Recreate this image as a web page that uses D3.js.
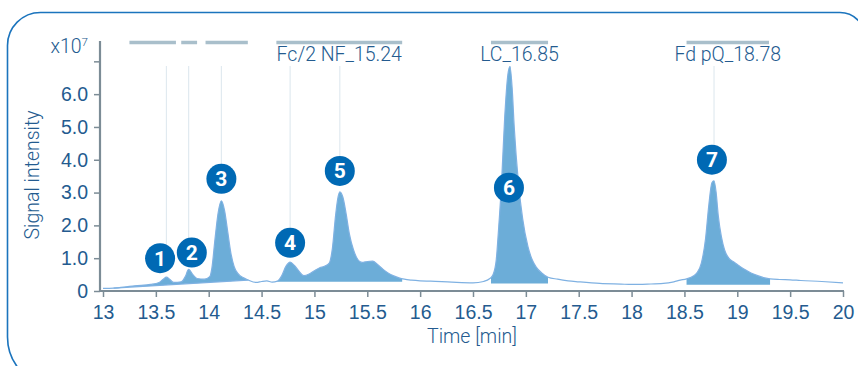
<!DOCTYPE html>
<html>
<head>
<meta charset="utf-8">
<script src="https://cdn.jsdelivr.net/npm/d3@7"></script>
<style>
  html, body { margin: 0; padding: 0; background: #ffffff; }
  svg { display: block; font-family: Roboto, "Liberation Sans", Arial, sans-serif; font-weight: 300; }
</style>
</head>
<body>
<svg id="chart" width="858" height="366"></svg>
<script>
// Chromatogram trace: retention time (min) and signal (x10^7)
const times = [
  13.00, 13.10, 13.20, 13.30, 13.45, 13.53, 13.57, 13.60, 13.63, 13.67, 13.74, 13.78, 13.81, 13.85, 13.89,
  13.96, 14.01, 14.03, 14.06, 14.09, 14.12, 14.15, 14.18, 14.21, 14.24, 14.28, 14.33, 14.37,
  14.45, 14.50, 14.55, 14.60, 14.65, 14.69, 14.73, 14.77, 14.81, 14.85, 14.90, 14.95,
  15.00, 15.05, 15.10, 15.14, 15.17, 15.20, 15.22, 15.24, 15.27, 15.30, 15.33, 15.37, 15.41, 15.45,
  15.50, 15.55, 15.60, 15.65, 15.70, 15.75, 15.80, 15.85, 15.92, 16.00, 16.10, 16.30, 16.50,
  16.60, 16.66, 16.69, 16.72, 16.74, 16.77, 16.80, 16.83, 16.85, 16.87, 16.89, 16.93, 16.97,
  17.02, 17.06, 17.10, 17.15, 17.21, 17.30, 17.40, 17.50, 17.70, 17.90, 18.00, 18.15, 18.30,
  18.40, 18.46, 18.52, 18.58, 18.62, 18.66, 18.70, 18.73, 18.76, 18.78, 18.80, 18.82, 18.85,
  18.88, 18.92, 18.96, 19.00, 19.04, 19.08, 19.13, 19.20, 19.26, 19.31, 19.40, 19.50, 19.60,
  19.80, 20.00
];
const signal = [
  0.08, 0.09, 0.12, 0.16, 0.20, 0.26, 0.36, 0.42, 0.36, 0.26, 0.28, 0.45, 0.66, 0.50, 0.38,
  0.36, 0.44, 0.70, 1.60, 2.40, 2.75, 2.45, 1.80, 1.15, 0.75, 0.52, 0.40, 0.34,
  0.26, 0.29, 0.31, 0.27, 0.30, 0.46, 0.75, 0.88, 0.78, 0.62, 0.47, 0.52,
  0.62, 0.71, 0.76, 0.85, 1.30, 2.30, 2.80, 3.02, 2.85, 2.35, 1.75, 1.25, 0.96, 0.87,
  0.90, 0.91, 0.80, 0.66, 0.54, 0.46, 0.40, 0.36, 0.33, 0.31, 0.30, 0.27, 0.25,
  0.29, 0.38, 0.50, 0.95, 1.80, 3.30, 5.30, 6.60, 6.84, 6.20, 5.00, 3.30, 2.20,
  1.35, 0.95, 0.72, 0.55, 0.42, 0.36, 0.31, 0.28, 0.23, 0.21, 0.20, 0.21, 0.23,
  0.28, 0.33, 0.37, 0.45, 0.56, 0.85, 1.60, 2.60, 3.30, 3.36, 3.00, 2.30, 1.65,
  1.25, 1.00, 0.90, 0.81, 0.72, 0.64, 0.55, 0.46, 0.40, 0.37, 0.35, 0.34, 0.32,
  0.29, 0.25
];

// Integrated regions: start/end time and baseline level at each end
const winStart = [13.10, 14.64, 16.67, 18.52];
const winEnd   = [14.37, 15.83, 17.21, 19.31];
const winBase0 = [0.09, 0.28, 0.23, 0.19];
const winBase1 = [0.33, 0.28, 0.23, 0.19];

// Identification bars above the plot and their names
const barStart = [13.25, 13.74, 13.97, 14.64, 16.67, 18.52];
const barEnd   = [13.69, 13.89, 14.37, 15.83, 17.21, 19.30];
const barLabel = ["", "", "", "Fc/2 NF_15.24", "LC_16.85", "Fd pQ_18.78"];

// Numbered peaks: retention time, badge position (time, signal)
const peakNo     = ["1", "2", "3", "4", "5", "6", "7"];
const peakTime   = [13.60, 13.81, 14.12, 14.77, 15.24, 16.85, 18.78];
const badgeTime  = [13.54, 13.84, 14.12, 14.77, 15.24, 16.84, 18.76];
const badgeLevel = [1.00, 1.17, 3.42, 1.47, 3.66, 3.15, 4.00];

// Axis ticks
const xTicks = [13, 13.5, 14, 14.5, 15, 15.5, 16, 16.5, 17, 17.5, 18, 18.5, 19, 19.5, 20];
const yTicks = [0, 1, 2, 3, 4, 5, 6, 7];

const textColor = "#245b8f";
const axisColor = "#7c8c96";
const fontSize = 19.5;

const svg = d3.select("#chart");

// Rounded panel frame
svg.append("path")
  .attr("d", "M57.5,387 A50,50 0 0 1 7.5,337 L7.5,45.5 A33,33 0 0 1 40.5,12.5 L840,12.5 A25,25 0 0 1 865,37.5 L865,387 Z")
  .attr("fill", "none")
  .attr("stroke", "#1b74bd")
  .attr("stroke-width", 1.6);

const x = d3.scaleLinear().domain([13, 20]).range([103, 843]);
const y = d3.scaleLinear().domain([0, 7.62]).range([291, 41]);

const pts = times.map((t, i) => ({ t, v: signal[i] }));

// Peak marker lines
svg.append("g").selectAll("line")
  .data(peakTime)
  .join("line")
  .attr("x1", d => x(d)).attr("x2", d => x(d))
  .attr("y1", 66)
  .attr("y2", (d, i) => y(badgeLevel[i]))
  .attr("stroke", "#e1eaf0")
  .attr("stroke-width", 1.2);

// Filled integration regions
const defs = svg.append("defs");
winStart.forEach((s, i) => {
  defs.append("clipPath").attr("id", "win" + i)
    .append("rect")
    .attr("x", x(s)).attr("y", 0)
    .attr("width", x(winEnd[i]) - x(s)).attr("height", 366);
  const base = t => winBase0[i] + (winBase1[i] - winBase0[i]) * (t - s) / (winEnd[i] - s);
  const area = d3.area()
    .x(d => x(d.t))
    .y0(d => y(base(d.t)))
    .y1(d => y(Math.max(d.v, base(d.t))))
    .curve(d3.curveMonotoneX);
  svg.append("path")
    .datum(pts)
    .attr("clip-path", `url(#win${i})`)
    .attr("d", area)
    .attr("fill", "#6cadd8");
  if (winBase0[i] !== winBase1[i]) {
    svg.append("line")
      .attr("x1", x(s)).attr("x2", x(winEnd[i]))
      .attr("y1", y(winBase0[i])).attr("y2", y(winBase1[i]))
      .attr("stroke", "#7fb1e2").attr("stroke-width", 1.2);
  }
});

// Signal trace
svg.append("path")
  .datum(pts)
  .attr("d", d3.line().x(d => x(d.t)).y(d => y(d.v)).curve(d3.curveMonotoneX))
  .attr("fill", "none")
  .attr("stroke", "#7fb1e2")
  .attr("stroke-width", 1.2);

// Identification bars and names
svg.append("g").selectAll("line")
  .data(barStart)
  .join("line")
  .attr("x1", d => x(d)).attr("x2", (d, i) => x(barEnd[i]))
  .attr("y1", 42.5).attr("y2", 42.5)
  .attr("stroke", "#a9bfcb")
  .attr("stroke-width", 3.5);
svg.append("g").selectAll("text")
  .data(barLabel)
  .join("text")
  .attr("x", (d, i) => (x(barStart[i]) + x(barEnd[i])) / 2)
  .attr("y", 61)
  .attr("text-anchor", "middle")
  .attr("font-size", fontSize)
  .attr("fill", textColor)
  .text(d => d);

// Numbered badges
const badges = svg.append("g").selectAll("g")
  .data(peakNo)
  .join("g")
  .attr("transform", (d, i) => `translate(${x(badgeTime[i])},${y(badgeLevel[i])})`);
badges.append("circle").attr("r", 15).attr("fill", "#0069b4");
badges.append("text")
  .attr("text-anchor", "middle")
  .attr("dy", "0.36em")
  .attr("font-size", 21)
  .attr("font-weight", 700)
  .attr("fill", "#ffffff")
  .text(d => d);

// X axis
const xAxis = svg.append("g")
  .attr("transform", "translate(0,291)")
  .call(d3.axisBottom(x).tickValues(xTicks).tickSize(6).tickPadding(8)
    .tickFormat(d => d3.format("~g")(d)));
xAxis.select(".domain").remove();
xAxis.selectAll(".tick line").attr("stroke", axisColor).attr("stroke-width", 1.5);
xAxis.selectAll(".tick text").attr("fill", textColor).attr("font-size", fontSize).attr("font-family", null);
svg.append("line")
  .attr("x1", 99).attr("x2", 844).attr("y1", 291).attr("y2", 291)
  .attr("stroke", axisColor).attr("stroke-width", 2.2);

// Y axis
const yAxis = svg.append("g")
  .attr("transform", "translate(100,0)")
  .call(d3.axisLeft(y).tickValues(yTicks).tickSize(6).tickPadding(6)
    .tickFormat(d => d === 0 ? "0" : (d === 7 ? "" : d3.format(".1f")(d))));
yAxis.select(".domain").remove();
yAxis.selectAll(".tick line").attr("stroke", axisColor).attr("stroke-width", 1.5);
yAxis.selectAll(".tick text").attr("fill", textColor).attr("font-size", fontSize).attr("font-family", null);
svg.append("line")
  .attr("x1", 100).attr("x2", 100).attr("y1", 41).attr("y2", 292)
  .attr("stroke", axisColor).attr("stroke-width", 2.2);

// Scale factor
const mult = svg.append("text")
  .attr("x", 88).attr("y", 53)
  .attr("text-anchor", "end")
  .attr("font-size", fontSize)
  .attr("fill", textColor);
mult.append("tspan").text("x10");
mult.append("tspan").attr("font-size", 11.5).attr("dy", -7).text("7");

// Axis titles
svg.append("text")
  .attr("x", 472).attr("y", 343)
  .attr("text-anchor", "middle")
  .attr("font-size", fontSize)
  .attr("fill", textColor)
  .text("Time [min]");
svg.append("text")
  .attr("transform", "translate(39,175) rotate(-90)")
  .attr("text-anchor", "middle")
  .attr("font-size", fontSize)
  .attr("fill", textColor)
  .text("Signal intensity");
</script>
</body>
</html>
